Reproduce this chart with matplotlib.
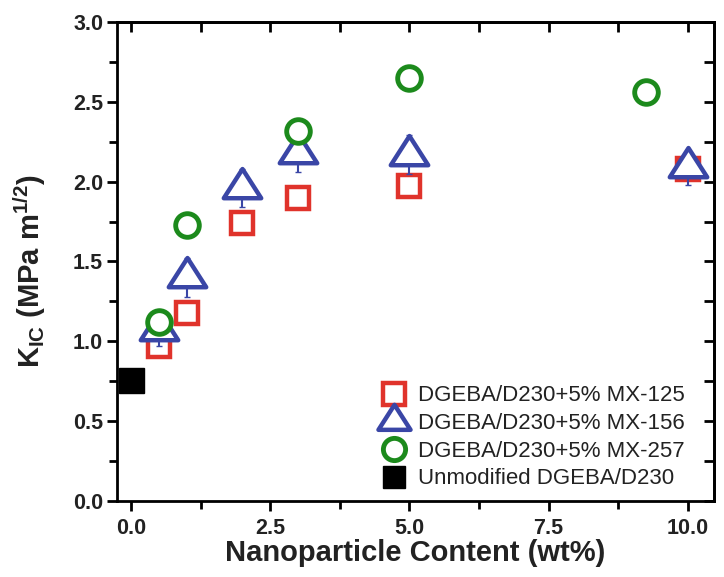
import matplotlib
matplotlib.use("Agg")
import matplotlib.pyplot as plt
from matplotlib.lines import Line2D
from matplotlib.path import Path
import numpy as np

plt.rcParams['font.family'] = ['Liberation Sans', 'DejaVu Sans']
plt.rcParams['mathtext.fontset'] = 'custom'
plt.rcParams['mathtext.rm'] = 'Liberation Sans:bold'
plt.rcParams['mathtext.it'] = 'Liberation Sans:bold'
plt.rcParams['mathtext.bf'] = 'Liberation Sans:bold'

# ---- data ----
x125 = [0.5, 1.0, 2.0, 3.0, 5.0, 10.0]
y125 = [0.97, 1.18, 1.74, 1.90, 1.97, 2.08]
e125 = [0.04, 0.05, 0.05, 0.04, 0.05, 0.05]

x156 = [0.5, 1.0, 2.0, 3.0, 5.0, 10.0]
y156 = [1.07, 1.40, 1.96, 2.18, 2.17, 2.09]
e156 = [0.10, 0.12, 0.12, 0.12, 0.12, 0.11]

x257 = [0.5, 1.0, 3.0, 5.0, 9.25]
y257 = [1.12, 1.73, 2.32, 2.65, 2.56]
e257 = [0.05, 0.05, 0.05, 0.03, 0.03]

x0 = [0.0]
y0 = [0.76]

labels = ["DGEBA/D230+5% MX-125", "DGEBA/D230+5% MX-156",
          "DGEBA/D230+5% MX-257", "Unmodified DGEBA/D230"]

xticks = [0.0, 2.5, 5.0, 7.5, 10.0]
yticks = [0.0, 0.5, 1.0, 1.5, 2.0, 2.5, 3.0]

RED = '#e0332b'
BLUE = '#3a46a6'
GREEN = '#1c8a1c'
TXT = '#222222'

# triangle centred on its centroid (as in the source software)
tri = Path([(-1.0, -0.52), (1.0, -0.52), (0.0, 1.04), (-1.0, -0.52)],
           [Path.MOVETO, Path.LINETO, Path.LINETO, Path.CLOSEPOLY])

fig = plt.figure(figsize=(7.24, 5.77), dpi=100)
ax = fig.add_axes([0.1616, 0.1317, 0.8246, 0.8302])

ax.errorbar(x125, y125, yerr=e125, fmt='s', ms=16, mfc='white', mec=RED,
            mew=3.2, ecolor=RED, elinewidth=1.5, capsize=3, zorder=3)
ax.errorbar(x156, y156, yerr=e156, fmt='none', ecolor=BLUE, elinewidth=1.5,
            capsize=2, zorder=3.5)
ax.plot(x156, y156, ls='none', marker=tri, ms=28, mfc='white', mec=BLUE,
        mew=3.2, zorder=4)
ax.errorbar(x257, y257, yerr=e257, fmt='o', ms=17, mfc='white', mec=GREEN,
            mew=3.5, ecolor=GREEN, elinewidth=1.5, capsize=3, zorder=5)
ax.plot(x0, y0, ls='none', marker='s', ms=18, color='black', zorder=6)

ax.set_xlim(-0.25, 10.47)
ax.set_ylim(0, 3.0)
ax.set_xticks(xticks)
ax.set_yticks(yticks)
ax.set_xticklabels([f"{v:.1f}" for v in xticks])
ax.set_yticklabels([f"{v:.1f}" for v in yticks])
ax.set_xticks(np.arange(-0.0, 10.01, 1.25), minor=True)
ax.set_yticks(np.arange(0, 3.01, 0.25), minor=True)

for s in ax.spines.values():
    s.set_linewidth(2.0)
    s.set_color('black')

ax.tick_params(axis='both', which='major', direction='out', length=7, width=2,
               labelsize=15.5, colors='black', labelcolor=TXT)
ax.tick_params(axis='both', which='minor', direction='out', length=6, width=2)
ax.tick_params(axis='x', which='major', pad=5)
ax.tick_params(axis='y', which='major', pad=3)
for lab in ax.get_xticklabels() + ax.get_yticklabels():
    lab.set_fontweight('bold')

# mirrored ticks pointing inward on top and right
top = ax.secondary_xaxis('top')
top.set_xticks(xticks)
top.set_xticks(np.arange(0.0, 10.01, 1.25), minor=True)
top.tick_params(which='both', direction='in', length=7, width=2, labeltop=False)
top.spines['top'].set_linewidth(2.0)
right = ax.secondary_yaxis('right')
right.set_yticks(yticks)
right.set_yticks(np.arange(0, 3.01, 0.25), minor=True)
right.tick_params(which='both', direction='in', length=7, width=2, labelright=False)
right.spines['right'].set_linewidth(2.0)

ax.set_xlabel("Nanoparticle Content (wt%)", fontsize=21, fontweight='bold',
              color=TXT, labelpad=0)
ax.set_ylabel(r"K$_{\mathrm{IC}}$ (MPa m$^{\mathrm{1/2}}$)", fontsize=21,
              fontweight='bold', color=TXT)
ax.yaxis.set_label_coords(-0.115, 0.48)

handles = [
    Line2D([], [], ls='none', marker='s', ms=16, mfc='white', mec=RED, mew=3.2),
    Line2D([], [], ls='none', marker=tri, ms=24, mfc='white', mec=BLUE, mew=3.2),
    Line2D([], [], ls='none', marker='o', ms=16, mfc='white', mec=GREEN, mew=3.5),
    Line2D([], [], ls='none', marker='s', ms=16, color='black'),
]
leg = ax.legend(handles, labels, loc='lower right', bbox_to_anchor=(0.958, 0.015),
                frameon=False, fontsize=16, handlelength=1.0, handletextpad=0.59,
                labelspacing=0.3, borderpad=0.2, borderaxespad=0)
for t in leg.get_texts():
    t.set_color(TXT)

fig.savefig("out.png", dpi=100)
